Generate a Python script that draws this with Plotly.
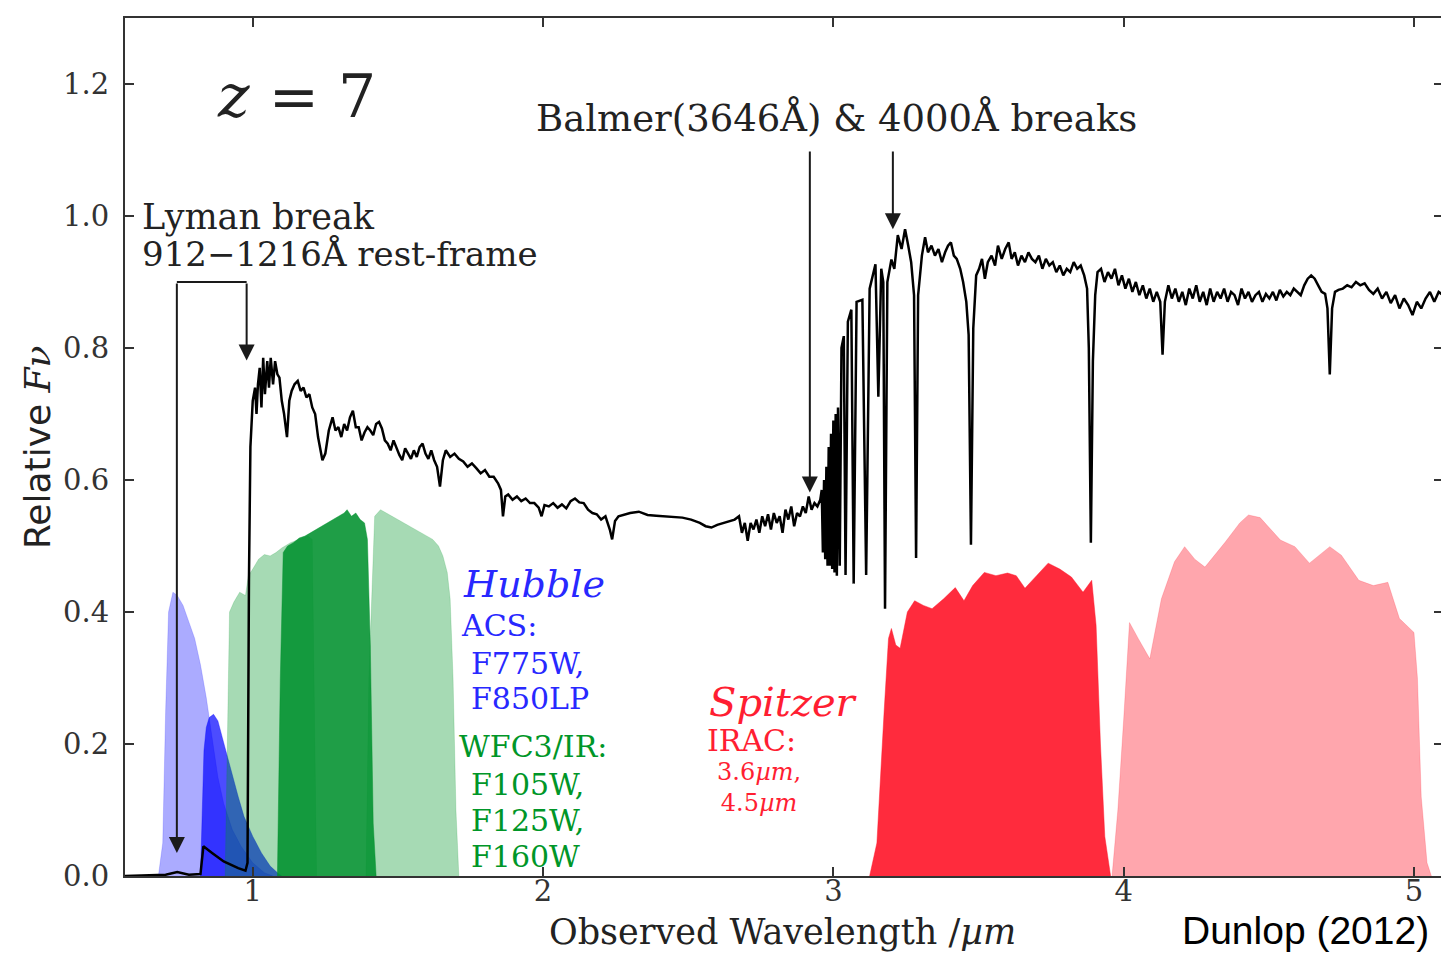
import plotly.graph_objects as go

# ---------------- data ----------------
spec_wl = [0.56, 0.70, 0.74, 0.78, 0.82, 0.83, 0.86, 0.90, 0.95, 0.975, 0.982, 0.987, 0.992,
           1.000, 1.008, 1.013, 1.018, 1.024, 1.030, 1.036, 1.042, 1.050, 1.056, 1.062, 1.070,
           1.077, 1.085, 1.092, 1.100, 1.108, 1.118, 1.126, 1.134, 1.144, 1.155, 1.165, 1.175,
           1.185, 1.195, 1.205, 1.215, 1.225, 1.240, 1.250, 1.262, 1.275, 1.285, 1.295, 1.305,
           1.315, 1.325, 1.335, 1.345, 1.355, 1.365, 1.375, 1.385, 1.395, 1.405, 1.415, 1.425,
           1.435, 1.445, 1.455, 1.465, 1.475, 1.485, 1.495, 1.505, 1.515, 1.525, 1.535, 1.545,
           1.555, 1.565, 1.575, 1.585, 1.595, 1.605, 1.615, 1.625, 1.635, 1.645, 1.655, 1.665,
           1.680, 1.695, 1.710, 1.725, 1.740, 1.755, 1.770, 1.785, 1.800, 1.815, 1.830, 1.845,
           1.855, 1.862, 1.870, 1.880, 1.895, 1.910, 1.925, 1.940, 1.955, 1.970, 1.985, 1.995,
           2.005, 2.020, 2.035, 2.050, 2.065, 2.080, 2.095, 2.110, 2.125, 2.140, 2.155, 2.170,
           2.185, 2.200, 2.215, 2.230, 2.238, 2.248, 2.260, 2.280, 2.300, 2.330, 2.360, 2.390,
           2.420, 2.450, 2.480, 2.510, 2.540, 2.560, 2.580, 2.600, 2.620, 2.640, 2.660, 2.675,
           2.685, 2.695, 2.705, 2.715, 2.725, 2.735, 2.745, 2.755, 2.765, 2.775, 2.785, 2.795,
           2.805, 2.815, 2.825, 2.835, 2.845, 2.855, 2.865, 2.875, 2.885, 2.895, 2.905, 2.915,
           2.925, 2.935, 2.945, 2.955, 2.960, 2.964, 2.968, 2.972, 2.976, 2.980, 2.984, 2.988,
           2.992, 2.996, 3.000, 3.004, 3.008, 3.012, 3.016, 3.022, 3.028, 3.036, 3.042, 3.050,
           3.062, 3.070, 3.080, 3.100, 3.113, 3.125, 3.145, 3.155, 3.165, 3.172, 3.178, 3.186,
           3.200, 3.210, 3.222, 3.235, 3.247, 3.258, 3.268, 3.278, 3.285, 3.292, 3.305, 3.316,
           3.326, 3.338, 3.350, 3.362, 3.374, 3.385, 3.395, 3.405, 3.415, 3.425, 3.437, 3.447,
           3.458, 3.466, 3.474, 3.482, 3.492, 3.502, 3.512, 3.522, 3.532, 3.545, 3.557, 3.567,
           3.580, 3.592, 3.604, 3.614, 3.625, 3.636, 3.648, 3.660, 3.672, 3.684, 3.696, 3.708,
           3.720, 3.732, 3.744, 3.756, 3.768, 3.780, 3.792, 3.804, 3.816, 3.828, 3.840, 3.852,
           3.864, 3.874, 3.880, 3.887, 3.894, 3.902, 3.910, 3.922, 3.934, 3.946, 3.958, 3.970,
           3.982, 3.994, 4.006, 4.018, 4.030, 4.042, 4.054, 4.066, 4.078, 4.090, 4.102, 4.114,
           4.126, 4.134, 4.142, 4.154, 4.166, 4.178, 4.190, 4.202, 4.214, 4.226, 4.238, 4.250,
           4.262, 4.274, 4.286, 4.298, 4.310, 4.322, 4.334, 4.346, 4.358, 4.370, 4.382, 4.394,
           4.406, 4.418, 4.430, 4.442, 4.454, 4.466, 4.478, 4.490, 4.502, 4.514, 4.526, 4.538,
           4.550, 4.562, 4.574, 4.586, 4.598, 4.610, 4.622, 4.634, 4.646, 4.658, 4.670, 4.682,
           4.694, 4.702, 4.710, 4.718, 4.728, 4.740, 4.755, 4.770, 4.785, 4.800, 4.815, 4.830,
           4.845, 4.860, 4.875, 4.890, 4.905, 4.920, 4.935, 4.950, 4.965, 4.980, 4.995, 5.010,
           5.025, 5.040, 5.055, 5.070, 5.085, 5.100]
spec_flux = [0.0, 0.002, 0.006, 0.002, 0.003, 0.045, 0.035, 0.022, 0.012, 0.008, 0.02, 0.45, 0.65,
             0.72, 0.74, 0.70, 0.745, 0.77, 0.71, 0.785, 0.73, 0.78, 0.74, 0.785, 0.745,
             0.78, 0.76, 0.755, 0.72, 0.70, 0.665, 0.72, 0.735, 0.745, 0.75, 0.735, 0.74,
             0.725, 0.73, 0.71, 0.70, 0.665, 0.63, 0.64, 0.675, 0.695, 0.675, 0.68, 0.665,
             0.685, 0.675, 0.695, 0.705, 0.68, 0.68, 0.66, 0.672, 0.68, 0.675, 0.668, 0.685,
             0.688, 0.678, 0.66, 0.655, 0.645, 0.66, 0.648, 0.638, 0.63, 0.648, 0.64, 0.632,
             0.645, 0.635, 0.65, 0.655, 0.64, 0.632, 0.645, 0.63, 0.62, 0.59, 0.63, 0.645,
             0.635, 0.64, 0.632, 0.628, 0.62, 0.625, 0.618, 0.61, 0.615, 0.605, 0.605, 0.595,
             0.585, 0.545, 0.575, 0.578, 0.57, 0.575, 0.568, 0.572, 0.565, 0.565, 0.558, 0.545,
             0.562, 0.56, 0.565, 0.558, 0.563, 0.557, 0.568, 0.572, 0.566, 0.565, 0.555, 0.55,
             0.548, 0.54, 0.545, 0.525, 0.51, 0.538, 0.545, 0.548, 0.55, 0.552, 0.547, 0.546,
             0.545, 0.544, 0.543, 0.54, 0.535, 0.53, 0.528, 0.532, 0.535, 0.537, 0.54, 0.545,
             0.52, 0.535, 0.508, 0.535, 0.525, 0.54, 0.52, 0.545, 0.53, 0.548, 0.525, 0.55,
             0.535, 0.545, 0.52, 0.555, 0.54, 0.56, 0.53, 0.55, 0.545, 0.56, 0.55, 0.575,
             0.555, 0.565, 0.56, 0.57, 0.585, 0.49, 0.60, 0.48, 0.62, 0.47, 0.65, 0.47,
             0.67, 0.465, 0.69, 0.46, 0.70, 0.455, 0.71, 0.47, 0.80, 0.818, 0.456, 0.84,
             0.858, 0.443, 0.87, 0.873, 0.456, 0.89, 0.927, 0.726, 0.92, 0.90, 0.405, 0.90,
             0.934, 0.92, 0.971, 0.95, 0.98, 0.955, 0.93, 0.88, 0.482, 0.88, 0.94, 0.968,
             0.945, 0.955, 0.94, 0.95, 0.93, 0.945, 0.955, 0.96, 0.94, 0.935, 0.92, 0.90,
             0.87, 0.82, 0.502, 0.83, 0.91, 0.92, 0.935, 0.905, 0.93, 0.94, 0.925, 0.955,
             0.935, 0.95, 0.96, 0.935, 0.945, 0.925, 0.94, 0.93, 0.945, 0.935, 0.93, 0.94,
             0.92, 0.935, 0.925, 0.93, 0.915, 0.925, 0.91, 0.92, 0.915, 0.93, 0.92, 0.925,
             0.91, 0.89, 0.80, 0.505, 0.78, 0.88, 0.915, 0.92, 0.90, 0.915, 0.905, 0.92,
             0.895, 0.91, 0.89, 0.905, 0.885, 0.90, 0.88, 0.895, 0.875, 0.89, 0.87, 0.885,
             0.87, 0.79, 0.87, 0.895, 0.875, 0.89, 0.87, 0.885, 0.865, 0.89, 0.875, 0.895,
             0.87, 0.885, 0.865, 0.89, 0.87, 0.885, 0.875, 0.89, 0.87, 0.885, 0.88, 0.865,
             0.89, 0.875, 0.885, 0.87, 0.88, 0.885, 0.87, 0.882, 0.875, 0.885, 0.872, 0.888,
             0.878, 0.885, 0.88, 0.89, 0.885, 0.88, 0.895, 0.905, 0.91, 0.905, 0.895, 0.885,
             0.882, 0.86, 0.76, 0.86, 0.885, 0.888, 0.89, 0.895, 0.892, 0.90, 0.895, 0.898,
             0.888, 0.882, 0.89, 0.875, 0.885, 0.868, 0.88, 0.86, 0.875, 0.865, 0.85, 0.87,
             0.86, 0.875, 0.885, 0.87, 0.885, 0.88]

f775w_wl = [0.675, 0.690, 0.700, 0.710, 0.725, 0.740, 0.760, 0.780, 0.800, 0.820, 0.840, 0.860,
            0.880, 0.900, 0.930, 0.960, 1.000, 1.040, 1.070]
f775w_tr = [0.0, 0.05, 0.25, 0.40, 0.43, 0.425, 0.41, 0.385, 0.36, 0.32, 0.27, 0.21,
            0.15, 0.11, 0.07, 0.045, 0.02, 0.005, 0.0]
f850lp_wl = [0.820, 0.826, 0.832, 0.840, 0.850, 0.865, 0.880, 0.895, 0.910, 0.930, 0.950, 0.970,
             1.000, 1.030, 1.060, 1.090, 1.100]
f850lp_tr = [0.0, 0.12, 0.19, 0.225, 0.24, 0.245, 0.235, 0.21, 0.185, 0.15, 0.12, 0.09,
             0.06, 0.035, 0.015, 0.003, 0.0]
f105w_wl = [0.905, 0.915, 0.920, 0.935, 0.955, 0.975, 0.985, 1.000, 1.020, 1.040, 1.060, 1.080,
            1.100, 1.130, 1.160, 1.190, 1.205, 1.212, 1.220]
f105w_tr = [0.0, 0.30, 0.40, 0.415, 0.43, 0.425, 0.455, 0.465, 0.48, 0.487, 0.485, 0.49,
            0.497, 0.505, 0.51, 0.515, 0.51, 0.30, 0.0]
f125w_wl = [1.085, 1.095, 1.105, 1.120, 1.140, 1.160, 1.180, 1.200, 1.220, 1.240, 1.260, 1.280,
            1.300, 1.315, 1.325, 1.340, 1.355, 1.370, 1.385, 1.395, 1.405, 1.415, 1.425]
f125w_tr = [0.0, 0.30, 0.49, 0.50, 0.505, 0.512, 0.515, 0.52, 0.525, 0.53, 0.535, 0.54,
            0.545, 0.55, 0.555, 0.545, 0.55, 0.54, 0.535, 0.51, 0.35, 0.08, 0.0]
f160w_wl = [1.390, 1.400, 1.420, 1.440, 1.460, 1.480, 1.500, 1.520, 1.540, 1.560, 1.580, 1.600,
            1.620, 1.640, 1.655, 1.670, 1.680, 1.690, 1.700, 1.710]
f160w_tr = [0.0, 0.30, 0.545, 0.555, 0.55, 0.545, 0.54, 0.535, 0.53, 0.525, 0.52, 0.515,
            0.51, 0.50, 0.485, 0.46, 0.42, 0.30, 0.10, 0.0]
irac1_wl = [3.125, 3.150, 3.175, 3.190, 3.200, 3.215, 3.230, 3.255, 3.280, 3.310, 3.340, 3.380,
            3.420, 3.450, 3.480, 3.520, 3.560, 3.600, 3.630, 3.660, 3.700, 3.740, 3.780, 3.820,
            3.860, 3.890, 3.905, 3.920, 3.935, 3.955]
irac1_tr = [0.0, 0.05, 0.25, 0.36, 0.375, 0.35, 0.345, 0.40, 0.417, 0.41, 0.405, 0.42,
            0.437, 0.417, 0.44, 0.46, 0.455, 0.459, 0.455, 0.436, 0.455, 0.474, 0.465, 0.453,
            0.43, 0.448, 0.38, 0.20, 0.06, 0.0]
irac2_wl = [3.960, 3.980, 4.000, 4.020, 4.050, 4.090, 4.130, 4.175, 4.210, 4.245, 4.280, 4.350,
            4.400, 4.430, 4.470, 4.540, 4.590, 4.640, 4.710, 4.750, 4.810, 4.860, 4.910, 4.950,
            5.000, 5.012, 5.025, 5.045, 5.060]
irac2_tr = [0.0, 0.10, 0.237, 0.384, 0.36, 0.329, 0.42, 0.476, 0.499, 0.48, 0.468, 0.506,
            0.535, 0.547, 0.543, 0.509, 0.499, 0.474, 0.499, 0.486, 0.448, 0.44, 0.445, 0.39,
            0.369, 0.30, 0.12, 0.02, 0.0]

x_ticks = [1, 2, 3, 4, 5]
y_ticks = [0.0, 0.2, 0.4, 0.6, 0.8, 1.0, 1.2]

# ---------------- figure ----------------
fig = go.Figure()

def band(x, y, color):
    fig.add_trace(go.Scatter(x=x, y=y, mode="lines", fill="tozeroy", fillcolor=color,
                             line=dict(color=color, width=0.5), hoverinfo="skip",
                             showlegend=False))

band(f775w_wl, f775w_tr, "rgba(0,0,255,0.33)")
band(f850lp_wl, f850lp_tr, "rgba(0,0,255,0.70)")
band(f105w_wl, f105w_tr, "rgba(0,150,40,0.35)")
band(f160w_wl, f160w_tr, "rgba(0,150,40,0.35)")
band(f125w_wl, f125w_tr, "rgba(0,145,45,0.88)")
band(irac1_wl, irac1_tr, "rgba(255,20,40,0.90)")
band(irac2_wl, irac2_tr, "rgba(255,20,40,0.38)")

fig.add_trace(go.Scatter(x=spec_wl, y=spec_flux, mode="lines",
                         line=dict(color="black", width=2.5), showlegend=False,
                         hoverinfo="skip"))

serif = "DejaVu Serif"
ann = []

def txt(x, y, text, size, color="#222", xanchor="left", family=serif):
    ann.append(dict(x=x, y=y, xref="x", yref="y", text=text, showarrow=False,
                    xanchor=xanchor, yanchor="middle",
                    font=dict(family=family, size=size, color=color)))

def arrow(x, y0, y1):
    ann.append(dict(x=x, y=y1, ax=x, ay=y0, xref="x", yref="y", axref="x", ayref="y",
                    text="", showarrow=True, arrowhead=2, arrowsize=1.6, arrowwidth=2,
                    arrowcolor="#1a1a1a", standoff=0, startstandoff=0))

# labels
txt(0.87, 1.182, "<i>z</i> = 7", 60)
txt(3.012, 1.149, "Balmer(3646Å) &amp; 4000Å breaks", 37, xanchor="center")
txt(0.611, 0.998, "Lyman break", 35)
txt(0.611, 0.942, "912−1216Å rest-frame", 34)

blue = "rgb(40,40,255)"
green = "rgb(0,150,40)"
red = "rgb(255,30,50)"
txt(1.719, 0.443, "<i>Hubble</i>", 38, blue)
txt(1.712, 0.379, "ACS:", 30, blue)
txt(1.746, 0.3225, "F775W,", 30, blue)
txt(1.746, 0.269, "F850LP", 30, blue)
txt(1.705, 0.196, "WFC3/IR:", 30, green)
txt(1.746, 0.139, "F105W,", 30, green)
txt(1.746, 0.084, "F125W,", 30, green)
txt(1.746, 0.029, "F160W", 30, green)
txt(2.565, 0.264, "<i>Spitzer</i>", 40, red)
txt(2.558, 0.206, "IRAC:", 30, red)
txt(2.592, 0.134, "3.6<i>µm</i>,<br>4.5<i>µm</i>", 24, red)

# arrows
arrow(2.919, 1.10, 0.581)
arrow(3.205, 1.10, 0.980)
arrow(0.7386, 0.90, 0.035)
arrow(0.979, 0.90, 0.781)
fig.add_shape(type="line", x0=0.7386, x1=0.979, y0=0.90, y1=0.90, xref="x", yref="y",
              line=dict(color="#1a1a1a", width=2))

# axis titles and credit (paper coords)
ann.append(dict(x=-0.0667, y=0.5, xref="paper", yref="paper", textangle=-90,
                text="Relative <i><span style='font-family:DejaVu Serif'>Fν</span></i>",
                showarrow=False, xanchor="center", yanchor="middle",
                font=dict(family="DejaVu Sans", size=36, color="#222")))
ann.append(dict(x=0.4992, y=-0.0905, xref="paper", yref="paper",
                text="Observed Wavelength /<i>µm</i>", showarrow=False,
                xanchor="center", yanchor="bottom",
                font=dict(family=serif, size=35, color="#222")))
ann.append(dict(x=0.8955, y=-0.0905, xref="paper", yref="paper",
                text="Dunlop (2012)", showarrow=False, xanchor="center", yanchor="bottom",
                font=dict(family="Liberation Sans", size=39, color="black")))

axis_common = dict(showline=True, linecolor="#333", linewidth=2, mirror="ticks",
                   ticks="inside", ticklen=9, tickwidth=1.5, tickcolor="#333",
                   showgrid=False, zeroline=False,
                   tickfont=dict(family=serif, size=29, color="#333"))

# page body has an 8px margin: the figure is sized/offset to compensate
fig.update_layout(
    width=1441, height=945,
    margin=dict(l=117, r=4, t=10, b=77),
    paper_bgcolor="white", plot_bgcolor="white",
    xaxis=dict(range=[0.56, 5.10], tickvals=x_ticks, ticktext=[str(v) for v in x_ticks],
               ticklabelstandoff=-12, **axis_common),
    yaxis=dict(range=[0.0, 1.30], tickvals=y_ticks, ticktext=[f"{v:.1f}" for v in y_ticks],
               ticklabelstandoff=8, **axis_common),
    annotations=ann,
    showlegend=False,
)

fig.write_html("out.html")
